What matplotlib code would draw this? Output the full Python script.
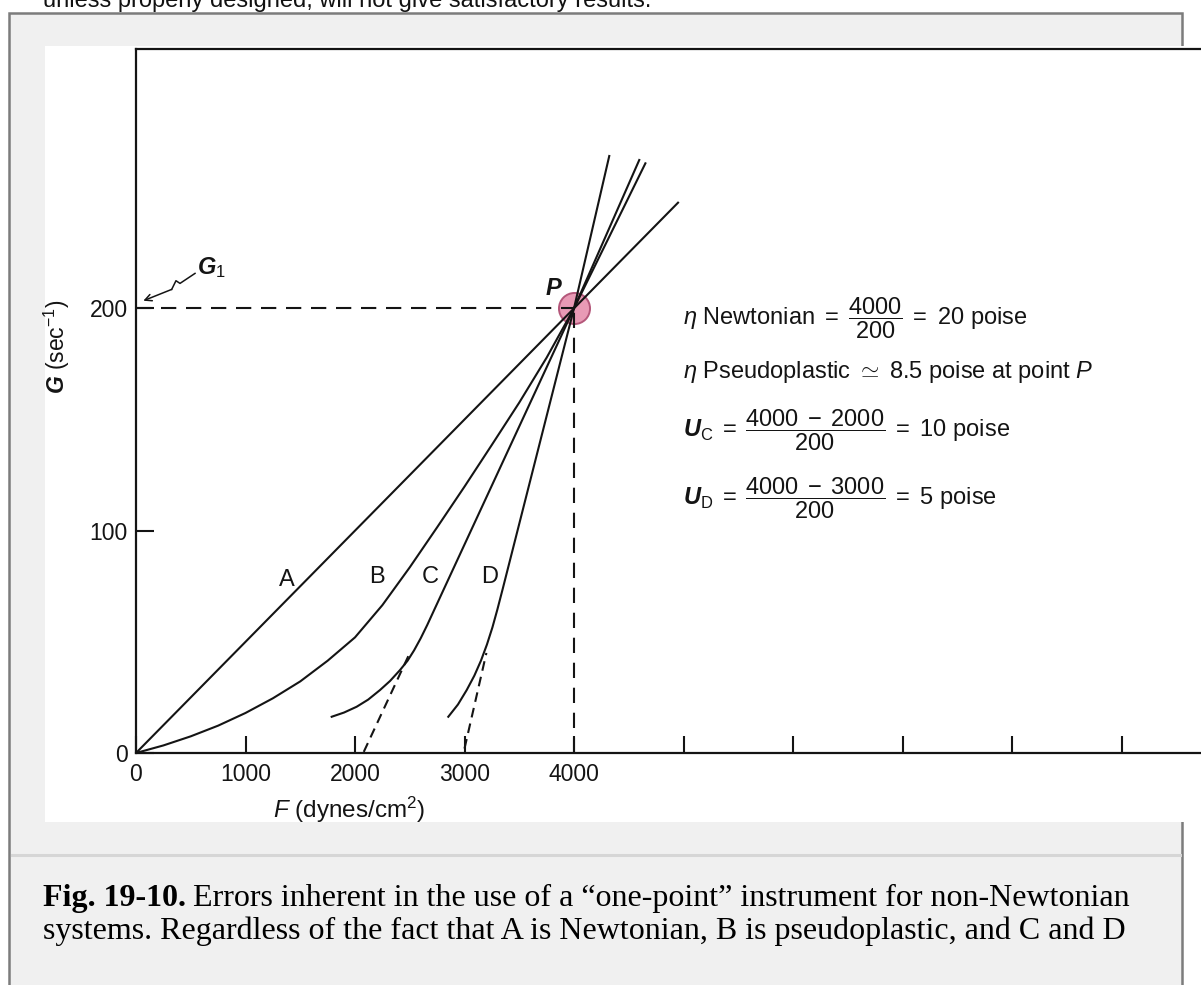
import matplotlib
matplotlib.use("Agg")
import matplotlib.pyplot as plt
from matplotlib.patches import Rectangle
from matplotlib.lines import Line2D

W, H = 1201, 985

# axis ticks
xtick_vals = [0, 1000, 2000, 3000, 4000, 5000, 6000, 7000, 8000, 9000]
xtick_text = ["0", "1000", "2000", "3000", "4000", "", "", "", "", ""]
ytick_vals = [0, 100, 200]
ytick_text = ["0", "100", "200"]

# point P
p_F = [4000]
p_G = [200]

# curves, F in dynes/cm2, G in 1/sec
a_F = [0, 4000, 4950]
a_G = [0, 200, 247.5]

b_F = [0, 250, 500, 750, 1000, 1250, 1500, 1750, 2000, 2250, 2500, 2750, 3000, 3250, 3500, 3750, 4000, 4596]
b_G = [0, 3.4, 7.5, 12.3, 18.0, 24.6, 32.2, 41.5, 52.0, 66.5, 83.5, 101.5, 119.8, 138.6, 157.6, 177.8, 200, 266.7]

c_F = [1787, 1900, 2015, 2120, 2228, 2320, 2411, 2480, 2540, 2600, 2660, 2720, 4000, 4652]
c_G = [16.3, 18.2, 20.8, 24.0, 28.3, 32.4, 37.3, 41.5, 46.2, 51.6, 57.6, 64.0, 200, 265.2]
c_ext_F = [2080, 2510]
c_ext_G = [0.5, 46]

d_F = [2852, 2940, 3020, 3090, 3150, 3205, 3255, 3300, 3350, 4000, 4322]
d_G = [16.3, 21.8, 28.3, 34.8, 41.5, 48.8, 56.5, 64.5, 74.0, 200, 268.5]
d_ext_F = [3000, 3200]
d_ext_G = [2, 45]

curve_names = ["A", "B", "C", "D"]
name_F = [1376, 2198, 2685, 3233]
name_G = [78, 79, 79, 79]

# squiggly G1 pointer
g1_F = [539, 402, 365, 326, 67]
g1_G = [215.7, 211.2, 212.4, 208.5, 203.4]

ink = "#141414"

plt.rcParams["font.family"] = ["Liberation Sans", "DejaVu Sans"]
plt.rcParams["mathtext.fontset"] = "custom"
plt.rcParams["mathtext.rm"] = "Liberation Sans"
plt.rcParams["mathtext.it"] = "Liberation Sans:italic"
plt.rcParams["mathtext.bf"] = "Liberation Sans:bold"
plt.rcParams["mathtext.bfit"] = "Liberation Sans:italic:bold"
plt.rcParams["lines.scale_dashes"] = False


def fxy(x, y):
    return x / W, 1 - y / H


fig = plt.figure(figsize=(W / 100, H / 100), dpi=100, facecolor="white")

# page text cut at the top, grey frame, white picture, caption separator
fig.text(*fxy(43, 7.5), "unless properly designed, will not give satisfactory results.",
         fontsize=17, color="#111111", va="baseline", zorder=-5)
fig.add_artist(Rectangle(fxy(8.5, 995), (1182 - 8.5) / W, (995 - 12.5) / H,
                         transform=fig.transFigure, facecolor="#f0f0f0",
                         edgecolor="#7c7c7c", lw=1.8, zorder=-4))
fig.add_artist(Rectangle(fxy(45, 822), (W - 45) / W, (822 - 46) / H,
                         transform=fig.transFigure, facecolor="white",
                         edgecolor="none", zorder=-3))
fig.add_artist(Line2D([12 / W, 1180 / W], [1 - 854.5 / H] * 2,
                      transform=fig.transFigure, color="#d6d6d6", lw=2.2, zorder=-3))

# axes placed so that F=0 sits at x=136 px and G=0 at y=753 px
x0, px_F = 136, 0.1095
y0, px_G = 753, 2.2235
ax = fig.add_axes([x0 / W, 1 - y0 / H, (W - x0) / W, (y0 - 49) / H])
ax.set_xlim(0, (W - x0) / px_F)
ax.set_ylim(0, (y0 - 49) / px_G)
ax.patch.set_visible(False)
ax.spines["right"].set_visible(False)
for s in ["left", "bottom", "top"]:
    ax.spines[s].set_color(ink)
    ax.spines[s].set_linewidth(1.6)

ax.set_xticks(xtick_vals)
ax.set_xticklabels(xtick_text)
ax.set_yticks(ytick_vals)
ax.set_yticklabels(ytick_text)
ax.tick_params(axis="x", direction="in", length=12, width=1.5, pad=7,
               labelsize=16.5, color=ink, labelcolor=ink)
ax.tick_params(axis="y", direction="in", length=13, width=1.5, pad=6,
               labelsize=16.5, color=ink, labelcolor=ink)

lw = 1.5
ax.plot(a_F, a_G, color=ink, lw=lw, zorder=4)
ax.plot(b_F, b_G, color=ink, lw=lw, zorder=4)
ax.plot(c_F, c_G, color=ink, lw=lw, zorder=4)
ax.plot(d_F, d_G, color=ink, lw=lw, zorder=4)
ax.plot(c_ext_F, c_ext_G, color=ink, lw=lw, dashes=(7, 4.5), zorder=4)
ax.plot(d_ext_F, d_ext_G, color=ink, lw=lw, dashes=(7, 4.5), zorder=4)

# dashed guides to the axes
ax.plot([0, p_F[0]], [p_G[0], p_G[0]], color=ink, lw=1.5, dashes=(11, 7), zorder=3)
ax.plot([p_F[0], p_F[0]], [0, p_G[0]], color=ink, lw=1.5, dashes=(11, 7), zorder=3)

ax.scatter(p_F, p_G, s=500, facecolor="#e89ab5", edgecolor="#b4577a",
           linewidth=1.4, zorder=2)

for name, f, g in zip(curve_names, name_F, name_G):
    ax.text(f, g, name, fontsize=17, color=ink, ha="center", va="center")

ax.text(3808, 209, "P", fontsize=17, fontweight="bold", fontstyle="italic",
        color=ink, ha="center", va="center")

ax.plot(g1_F[:-1], g1_G[:-1], color=ink, lw=1.1, clip_on=False)
ax.annotate("", xy=(g1_F[-1], g1_G[-1]), xytext=(g1_F[-2], g1_G[-2]),
            arrowprops=dict(arrowstyle="->", lw=1.1, color=ink,
                            shrinkA=0, shrinkB=0, mutation_scale=12))
fig.text(*fxy(211, 268), r"$\mathbfit{G}_1$", fontsize=17, color=ink,
         ha="center", va="center")

# axis titles
fig.text(*fxy(57, 347), r"$\mathbfit{G}$ (sec$^{-1}$)", fontsize=16.5, color=ink,
         rotation=90, ha="center", va="center")
fig.text(*fxy(349, 810), r"$\mathit{F}$ (dynes/cm$^{2}$)", fontsize=17.5, color=ink,
         ha="center", va="center")

# viscosity notes
note_fs = 17
fig.text(*fxy(683, 318), r"$\eta$ Newtonian $=\;\dfrac{4000}{200}\;=$ 20 poise",
         fontsize=note_fs, color=ink, ha="left", va="center")
fig.text(*fxy(683, 372), r"$\eta$ Pseudoplastic $\simeq$ 8.5 poise at point $P$",
         fontsize=note_fs, color=ink, ha="left", va="center")
fig.text(*fxy(683, 430), r"$\mathbfit{U}_{\mathrm{C}}\;=\;\dfrac{4000\;-\;2000}{200}\;=$ 10 poise",
         fontsize=note_fs, color=ink, ha="left", va="center")
fig.text(*fxy(683, 498), r"$\mathbfit{U}_{\mathrm{D}}\;=\;\dfrac{4000\;-\;3000}{200}\;=$ 5 poise",
         fontsize=note_fs, color=ink, ha="left", va="center")

# caption
cap_fs = 23
t1 = fig.text(*fxy(43, 906), "Fig. 19-10.", family="Liberation Serif",
              fontweight="bold", fontsize=cap_fs, color="black", va="baseline")
renderer = fig.canvas.get_renderer()
bb = t1.get_window_extent(renderer)
fig.text((bb.x1 + 7) / W, 1 - 906 / H,
         "Errors inherent in the use of a \u201cone-point\u201d instrument for non-Newtonian",
         family="Liberation Serif", fontsize=cap_fs, color="black", va="baseline")
fig.text(*fxy(43, 939),
         "systems. Regardless of the fact that A is Newtonian, B is pseudoplastic, and C and D",
         family="Liberation Serif", fontsize=cap_fs, color="black", va="baseline")

fig.savefig("out.png", dpi=100, facecolor="white")
plt.close(fig)
